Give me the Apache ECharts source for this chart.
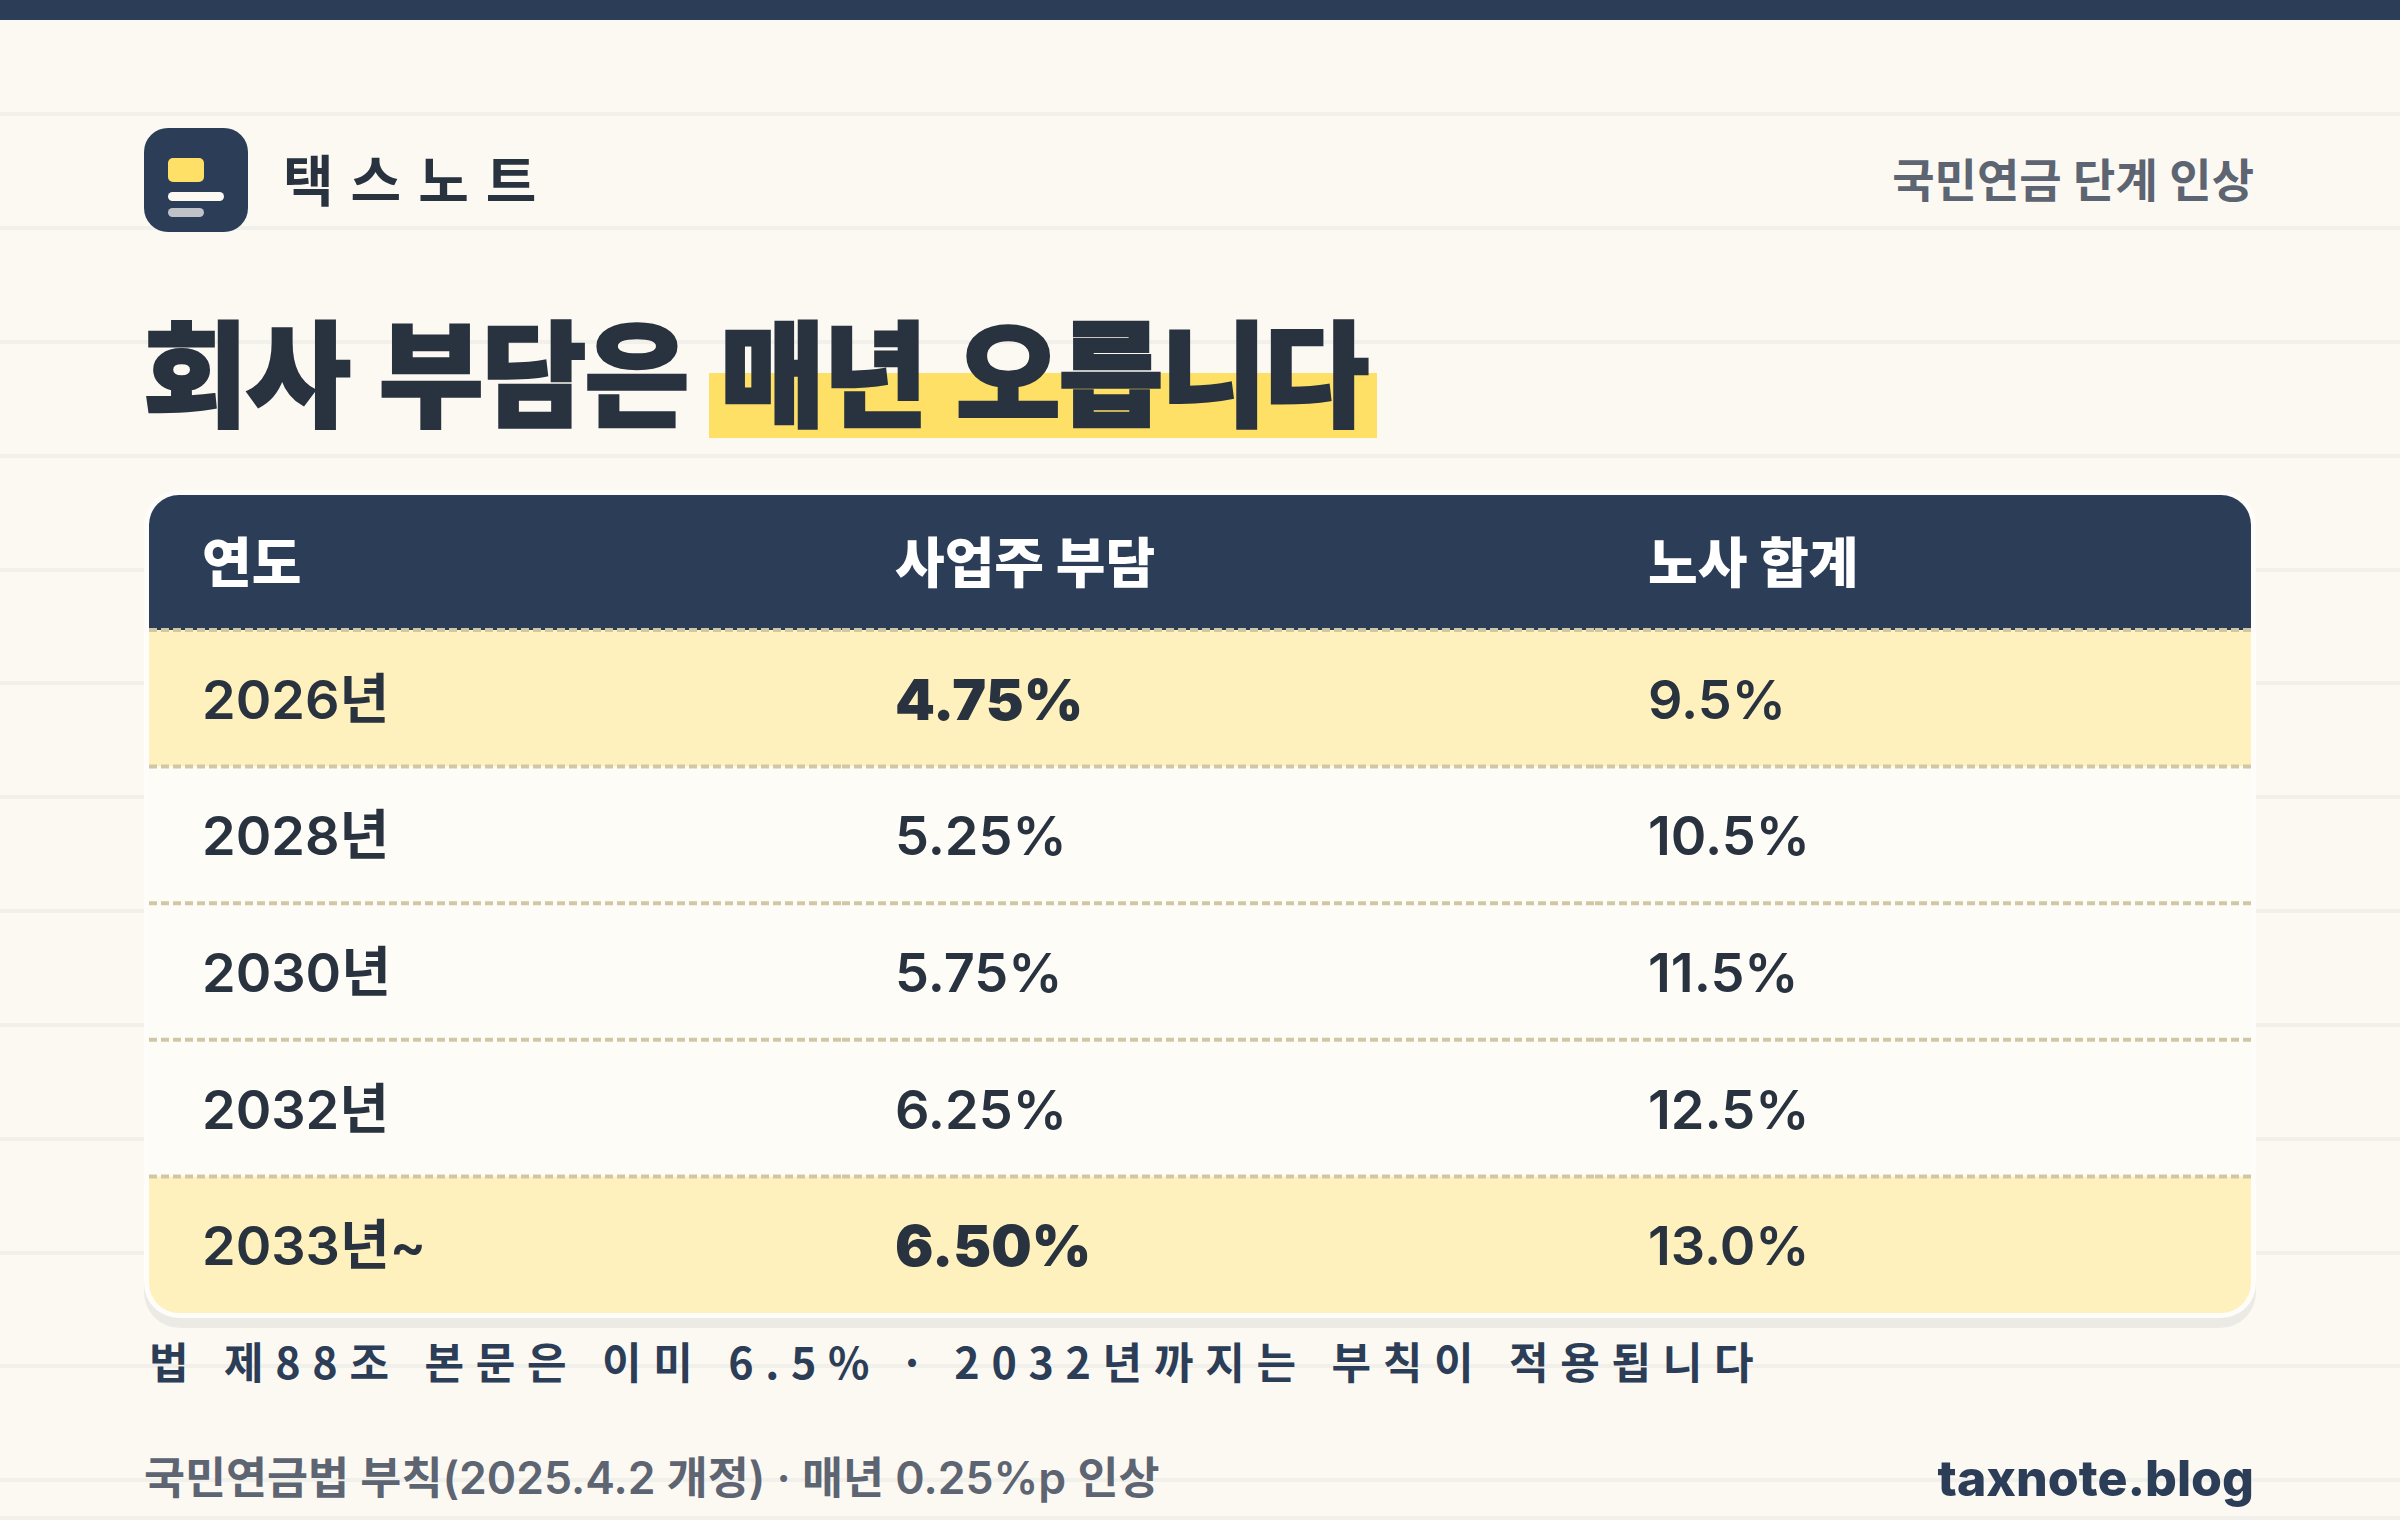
<!DOCTYPE html>
<html lang="ko">

<head>
    <meta charset="UTF-8">
    <title>국민연금 단계 인상</title>
    <script src="https://cdn.jsdelivr.net/npm/echarts@6/dist/echarts.min.js"></script>
    <style>
        html, body { margin: 0; padding: 0; background: #fcf9f2; }
        #main { width: 2400px; height: 1520px; }
        /* handwritten lines are spaced out, the big title is pulled tight */
        #main text[style*="55px"] { letter-spacing: 17px; }
        #main text[style*="43px"] { letter-spacing: 11.7px; }
        #main text[style*="114px"] { letter-spacing: -2px; }
    </style>
</head>

<body>
    <div id="main"></div>
</body>
<script type="text/javascript">

    var columns = ['연도', '사업주 부담', '노사 합계'];
    var years = ['2026년', '2028년', '2030년', '2032년', '2033년~'];
    var employer = ['4.75%', '5.25%', '5.75%', '6.25%', '6.50%'];
    var total = ['9.5%', '10.5%', '11.5%', '12.5%', '13.0%'];
    var highlightRows = [0, 4];
    var boldEmployerRows = [0, 4];

    var brand = '택스노트';
    var topic = '국민연금 단계 인상';
    var titleA = '회사 부담은';
    var titleB = '매년 오릅니다';
    var note = '법 제88조 본문은 이미 6.5% · 2032년까지는 부칙이 적용됩니다';
    var source = '국민연금법 부칙(2025.4.2 개정) · 매년 0.25%p 인상';
    var site = 'taxnote.blog';

    var NAVY = '#2c3d58';
    var INK = '#29323f';
    var GREY = '#5d6472';
    var DASH = '#d1c7a5';
    var FONT = 'Inter, "Noto Sans CJK KR", sans-serif';
    var KR = '"Noto Sans CJK KR", sans-serif';

    var colLeft = [149, 842, 1595];
    var colWidth = [693, 753, 656];
    var headTop = 495, headHeight = 135, bodyTop = 630, bodyHeight = 683;
    var colRows = [years, employer, total];

    var chart = echarts.init(document.getElementById('main'), null, { renderer: 'svg' });

    function cellRenderer(col, isHead, labels) {
        return function (params, api) {
            var row = params.dataIndex;
            var center = api.coord([0, row]);
            var size = api.size([1, 1]);
            var x = center[0] - size[0] / 2;
            var y = center[1] - size[1] / 2;
            var r = [0, 0, 0, 0];
            var fill, color, weight = 600, fontSize = 54;
            if (isHead) {
                fill = NAVY;
                color = '#ffffff';
                weight = 800;
                fontSize = 54;
                if (col === 0) r = [30, 0, 0, 0];
                if (col === 2) r = [0, 30, 0, 0];
            } else {
                fill = highlightRows.indexOf(row) >= 0 ? '#fef1bd' : '#fefcf7';
                color = INK;
                if (col === 1 && boldEmployerRows.indexOf(row) >= 0) {
                    weight = 900;
                    fontSize = 57;
                }
                if (row === 4 && col === 0) r = [0, 0, 0, 30];
                if (row === 4 && col === 2) r = [0, 0, 30, 0];
            }
            var kids = [{
                type: 'rect',
                shape: { x: x, y: y, width: size[0], height: size[1], r: r },
                style: { fill: fill }
            }, {
                type: 'text',
                x: x + 53,
                y: center[1] + 1,
                style: {
                    text: labels[row],
                    fill: color,
                    font: weight + ' ' + fontSize + 'px ' + FONT,
                    verticalAlign: 'middle'
                }
            }];
            // row rule on top of each body row, every cell draws its own so the dashes restart per column
            if (!isHead) {
                kids.push({
                    type: 'line',
                    shape: { x1: x, y1: y, x2: x + size[0], y2: y },
                    style: { stroke: DASH, lineWidth: 4, lineDash: [8, 4] }
                });
            }
            return { type: 'group', children: kids };
        };
    }

    var grids = [{ left: 0, top: -2, width: 2400, height: 1520 }];
    var xAxes = [{ gridIndex: 0, type: 'value', min: 0, max: 1, show: false }];
    var yAxes = [{
        gridIndex: 0, type: 'value', inverse: true, min: 0, max: 1520, interval: 114,
        axisLine: { show: false }, axisTick: { show: false }, axisLabel: { show: false },
        splitLine: { show: true, lineStyle: { color: '#f2f0eb', width: 4 } }
    }];
    var series = [];

    columns.forEach(function (name, col) {
        [true, false].forEach(function (isHead) {
            var idx = grids.length;
            var labels = isHead ? [name] : colRows[col];
            grids.push({
                left: colLeft[col], width: colWidth[col],
                top: isHead ? headTop : bodyTop,
                height: isHead ? headHeight : bodyHeight
            });
            xAxes.push({ gridIndex: idx, type: 'category', data: [name], show: false });
            yAxes.push({ gridIndex: idx, type: 'category', data: labels, inverse: true, show: false });
            series.push({
                type: 'custom',
                xAxisIndex: idx,
                yAxisIndex: idx,
                z: 5,
                clip: false,
                silent: true,
                renderItem: cellRenderer(col, isHead, labels),
                data: labels.map(function (t, i) { return [0, i]; })
            });
        });
    });

    function textEl(text, x, y, font, fill, align, heavy) {
        return {
            type: 'text', x: x, y: y, z: 10,
            style: {
                text: text, font: font, fill: fill, textAlign: align || 'left', textVerticalAlign: 'middle',
                stroke: heavy ? fill : null, lineWidth: heavy || 0
            }
        };
    }

    chart.setOption({
        backgroundColor: '#fcf9f2',
        animation: false,
        grid: grids,
        xAxis: xAxes,
        yAxis: yAxes,
        series: series,
        graphic: [
            { type: 'rect', z: 1, shape: { x: 0, y: 0, width: 2400, height: 20 }, style: { fill: NAVY } },
            // logo
            { type: 'rect', z: 1, shape: { x: 144, y: 128, width: 104, height: 104, r: 24 }, style: { fill: NAVY } },
            { type: 'rect', z: 2, shape: { x: 168, y: 158, width: 36, height: 24, r: 5 }, style: { fill: '#ffe066' } },
            { type: 'rect', z: 2, shape: { x: 168, y: 192, width: 56, height: 9, r: 4.5 }, style: { fill: '#fcf9f2' } },
            { type: 'rect', z: 2, shape: { x: 168, y: 208, width: 36, height: 9, r: 4.5 }, style: { fill: '#bfc2c7' } },
            // title highlight
            { type: 'rect', z: 1, shape: { x: 709, y: 373, width: 668, height: 65 }, style: { fill: '#ffe066' } },
            // table card and its hard shadow
            { type: 'rect', z: 1, shape: { x: 144, y: 500, width: 2112, height: 828, r: 36 }, style: { fill: '#ebeae5' } },
            { type: 'rect', z: 2, shape: { x: 144, y: 490, width: 2112, height: 828, r: 35 }, style: { fill: '#fffdf9' } },
            textEl(brand, 283, 177, '700 55px ' + KR, INK),
            textEl(topic, 2254, 180, '600 46px ' + FONT, GREY, 'right'),
            textEl(titleA, 143, 367, '900 114px ' + KR, INK, 'left', 2.5),
            textEl(titleB, 720, 367, '900 114px ' + KR, INK, 'left', 2.5),
            textEl(note, 149, 1360, '700 43px ' + KR, NAVY),
            textEl(source, 144, 1478, '600 44.6px ' + FONT, GREY),
            textEl(site, 2254, 1478, '800 50px ' + FONT, NAVY, 'right')
        ]
    });
</script>

</html>
